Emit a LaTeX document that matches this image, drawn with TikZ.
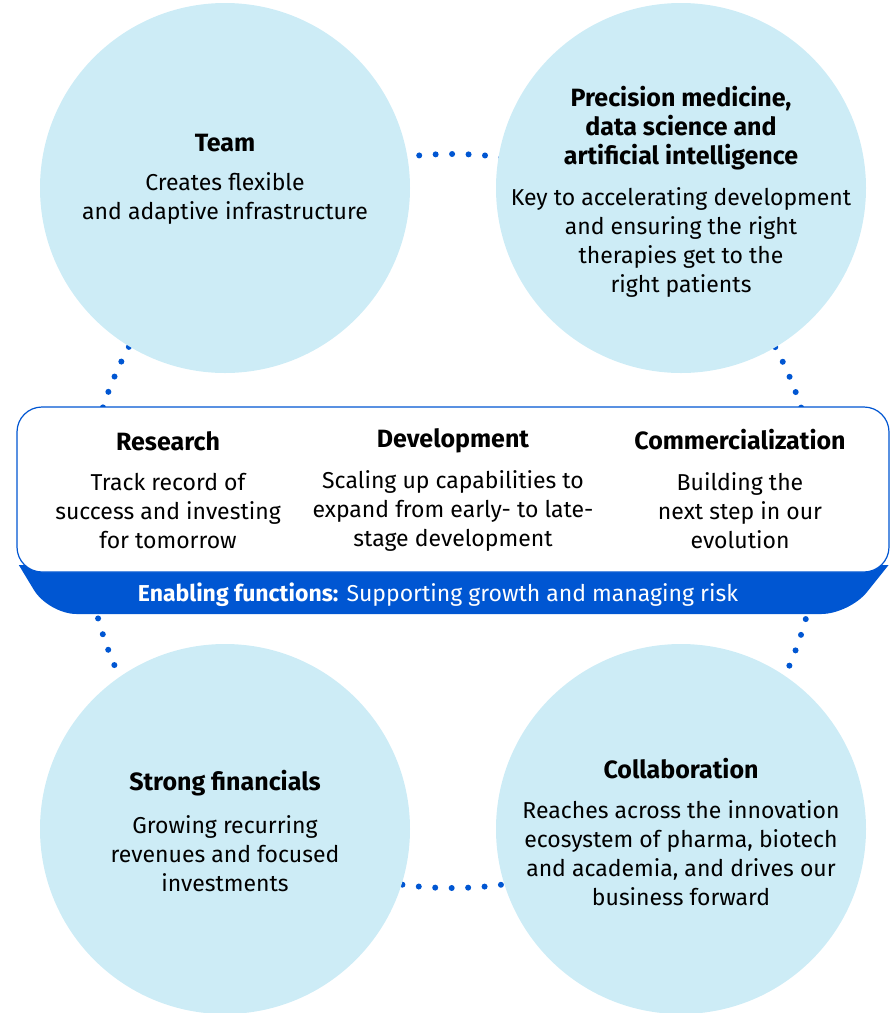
\documentclass[tikz,border=0pt]{standalone}
\usepackage{fontspec}
\setmainfont{Fira Sans}
\usetikzlibrary{positioning}
\definecolor{ringblue}{RGB}{0,86,210}
\definecolor{paleblue}{RGB}{205,236,246}

\begin{document}
\begin{tikzpicture}[x=1pt,y=-1pt,node distance=40pt,on grid,
    every node/.style={inner sep=0pt}]
  \tikzstyle{nodeC}=[circle,fill=paleblue,minimum size=370pt]
  \tikzstyle{headT}=[font=\bfseries\fontsize{25}{29}\selectfont,align=center]
  \tikzstyle{bodyT}=[font=\fontsize{23}{29}\selectfont,align=center]
  \useasboundingbox (0,0) rectangle (896,1013);

  % dotted ring behind the circles
  \coordinate (ring) at (452,521);
  \draw[ringblue,line width=6pt,line cap=round,dash pattern=on 0pt off 16.47pt] (ring) circle (367pt);

  % the four circles
  \node[nodeC] (team)   at (225,188) {};
  \node[nodeC] (prec)   [right=456pt of team] {};
  \node[nodeC] (fin)    [below=641pt of team] {};
  \node[nodeC] (collab) [right=456pt of fin] {};

  % banner and core box
  \fill[ringblue] (18.8,565) [rounded corners=28pt] -- (48.5,614) -- (849.4,614) [sharp corners] -- (888.6,565) -- cycle;
  \node[draw=ringblue,line width=1.2pt,fill=white,rounded corners=25pt,
        minimum width=872pt,minimum height=165pt] (core) at (453,489.5) {};
  \node[font=\fontsize{23}{29}\selectfont,text=white] (enable) at (438,595)
    {\textbf{Enabling functions:} Supporting growth and managing risk};

  % circle texts
  \node[headT] (teamH) [above=45pt of team] {Team};
  \node[bodyT] (teamB) [below=10.5pt of team] {Creates flexible\\and adaptive infrastructure};
  \node[headT] (precH) [above=60pt of prec] {Precision medicine,\\data science and\\artificial intelligence};
  \node[bodyT] (precB) [below=54pt of prec] {Key to accelerating development\\and ensuring the right\\therapies get to the\\right patients};
  \node[headT] (finH) [above=46pt of fin] {Strong financials};
  \node[bodyT] (finB) [below=25pt of fin] {Growing recurring\\revenues and focused\\investments};
  \node[headT] (collabH) [above=60pt of collab] {Collaboration};
  \node[bodyT] (collabB) [below=24.5pt of collab] {Reaches across the innovation\\ecosystem of pharma, biotech\\and academia, and drives our\\business forward};

  % box columns
  \node[headT] (resH) at (168,441) {Research};
  \node[bodyT] (resB) [below=70pt of resH] {Track record of\\success and investing\\for tomorrow};
  \node[headT] (devH) at (453,441) {Development};
  \node[bodyT] (devB) [below=70pt of devH] {Scaling up capabilities to\\expand from early- to late-\\stage development};
  \node[headT] (comH) at (740,440) {Commercialization};
  \node[bodyT] (comB) [below=71pt of comH] {Building the\\next step in our\\evolution};
\end{tikzpicture}
\end{document}
